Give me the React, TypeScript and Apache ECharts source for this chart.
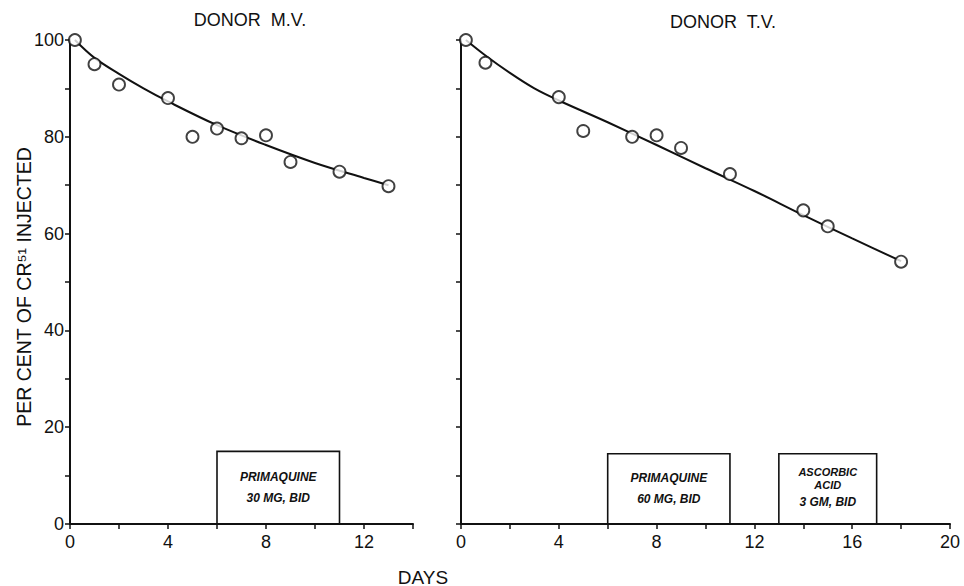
import React, { useEffect, useRef } from "react";
import * as echarts from "echarts";

// Donor M.V. (left panel)
const mvDays = [0.2, 1, 2, 4, 5, 6, 7, 8, 9, 11, 13];
const mvPercent = [100, 95, 90.8, 88, 80, 81.7, 79.7, 80.3, 74.8, 72.8, 69.8];
const mvFitDays = [0.2, 1, 2, 3, 4, 6, 8, 10, 12, 13];
const mvFitPercent = [100, 96.3, 93, 90, 87.3, 82.4, 78.3, 74.6, 71.5, 70];

// Donor T.V. (right panel)
const tvDays = [0.2, 1, 4, 5, 7, 8, 9, 11, 14, 15, 18];
const tvPercent = [100, 95.3, 88.2, 81.2, 80, 80.3, 77.7, 72.3, 64.8, 61.5, 54.2];
const tvFitDays = [0.2, 1, 2, 3, 4, 6, 8, 10, 12, 14, 16, 18];
const tvFitPercent = [100, 96.8, 93.2, 90, 87.5, 83, 78.3, 73.5, 68.8, 63.8, 59, 54.3];

// Treatment periods: start day, end day, box height (%), label
const mvTreatStart = [6];
const mvTreatEnd = [11];
const mvTreatTop = [15];
const mvTreatLabel = ["{a|PRIMAQUINE}\n{a|30 MG, BID}"];

const tvTreatStart = [6, 13];
const tvTreatEnd = [11, 17];
const tvTreatTop = [14.5, 14.5];
const tvTreatLabel = [
  "{a|PRIMAQUINE}\n{a|60 MG, BID}",
  "{c|ASCORBIC}\n{c|ACID}\n{d|3 GM, BID}",
];

const titles = ["DONOR  M.V.", "DONOR  T.V."];
const yAxisTitle = "PER CENT OF CR\u2075\u00b9 INJECTED";
const xAxisTitle = "DAYS";

const FONT = "Liberation Sans";
const INK = "#111";

function zip(xs: number[], ys: number[]) {
  return xs.map((x, i) => [x, ys[i]]);
}

function areas(starts: number[], ends: number[], tops: number[], labels: string[]) {
  return starts.map((s, i) => [
    { xAxis: s, yAxis: 0, name: labels[i] },
    { xAxis: ends[i], yAxis: tops[i] },
  ]);
}

export default function App() {
  const ref = useRef<HTMLDivElement>(null);
  useEffect(() => {
    if (!ref.current) return;
    const chart = echarts.init(ref.current, null, { renderer: "svg" });

    const axisCommonX = (max: number) => ({
      type: "value",
      min: 0,
      max,
      interval: 2,
      splitLine: { show: false },
      axisLine: { show: true, lineStyle: { color: INK, width: 2 } },
      axisTick: { show: true, length: 5, lineStyle: { color: INK, width: 1.5 } },
      axisLabel: {
        color: INK,
        fontFamily: FONT,
        fontSize: 18,
        margin: 9,
        formatter: (v: number) => (v % 4 === 0 ? String(v) : ""),
      },
    });
    const axisCommonY = (showLabels: boolean) => ({
      type: "value",
      min: 0,
      max: 100,
      interval: 10,
      splitLine: { show: false },
      axisLine: { show: true, lineStyle: { color: INK, width: 2 } },
      axisTick: { show: true, length: 5, lineStyle: { color: INK, width: 1.5 } },
      axisLabel: {
        show: showLabels,
        color: INK,
        fontFamily: FONT,
        fontSize: 18,
        margin: 6,
        formatter: (v: number) => (v % 20 === 0 ? String(v) : ""),
      },
    });

    const boxFont = { fontFamily: FONT, fontWeight: "bold", fontStyle: "italic", color: INK };
    const richBox = {
      a: { ...boxFont, fontSize: 12, lineHeight: 21 },
      c: { ...boxFont, fontSize: 11, lineHeight: 13 },
      d: { ...boxFont, fontSize: 12, lineHeight: 21 },
    };

    const markAreaOf = (starts: number[], ends: number[], tops: number[], labels: string[]) => ({
      silent: true,
      itemStyle: { color: "rgba(255,255,255,0)", borderColor: INK, borderWidth: 1.6 },
      label: {
        show: true,
        position: "inside",
        formatter: (p: any) => p.name,
        rich: richBox,
        color: INK,
      },
      data: areas(starts, ends, tops, labels),
    });

    const scatterStyle = {
      type: "scatter",
      symbol: "circle",
      symbolSize: 12,
      itemStyle: { color: "#fff", borderColor: INK, borderWidth: 1.9 },
      z: 5,
    };
    const lineStyle = {
      type: "line",
      smooth: 0.35,
      showSymbol: false,
      symbol: "none",
      lineStyle: { color: INK, width: 2 },
      z: 3,
    };

    chart.setOption({
      animation: false,
      backgroundColor: "#fff",
      grid: [
        { left: 70, top: 40, width: 343, height: 484 },
        { left: 461, top: 40, width: 489, height: 484 },
      ],
      xAxis: [
        { ...axisCommonX(14), gridIndex: 0 },
        { ...axisCommonX(20), gridIndex: 1 },
      ],
      yAxis: [
        { ...axisCommonY(true), gridIndex: 0 },
        { ...axisCommonY(false), gridIndex: 1 },
      ],
      series: [
        {
          ...lineStyle,
          name: "M.V. fit",
          xAxisIndex: 0,
          yAxisIndex: 0,
          data: zip(mvFitDays, mvFitPercent),
          markArea: markAreaOf(mvTreatStart, mvTreatEnd, mvTreatTop, mvTreatLabel),
        },
        {
          ...scatterStyle,
          name: "M.V.",
          xAxisIndex: 0,
          yAxisIndex: 0,
          data: zip(mvDays, mvPercent),
        },
        {
          ...lineStyle,
          name: "T.V. fit",
          xAxisIndex: 1,
          yAxisIndex: 1,
          data: zip(tvFitDays, tvFitPercent),
          markArea: markAreaOf(tvTreatStart, tvTreatEnd, tvTreatTop, tvTreatLabel),
        },
        {
          ...scatterStyle,
          name: "T.V.",
          xAxisIndex: 1,
          yAxisIndex: 1,
          data: zip(tvDays, tvPercent),
        },
      ],
      graphic: [
        {
          type: "text",
          x: 250,
          y: 20,
          style: { text: titles[0], fontFamily: FONT, fontSize: 18, fill: INK, align: "center", verticalAlign: "middle" },
        },
        {
          type: "text",
          x: 723,
          y: 22,
          style: { text: titles[1], fontFamily: FONT, fontSize: 18, fill: INK, align: "center", verticalAlign: "middle" },
        },
        {
          type: "text",
          x: 24,
          y: 287,
          rotation: Math.PI / 2,
          style: { text: yAxisTitle, fontFamily: FONT, fontSize: 19.5, fill: INK, align: "center", verticalAlign: "middle" },
        },
        {
          type: "text",
          x: 423,
          y: 577,
          style: { text: xAxisTitle, fontFamily: FONT, fontSize: 19, fill: INK, align: "center", verticalAlign: "middle" },
        },
      ],
    });
    return () => chart.dispose();
  }, []);
  return (
    <div
      ref={ref}
      style={{ position: "fixed", left: 0, top: 0, width: 964, height: 586, background: "#fff" }}
    />
  );
}
